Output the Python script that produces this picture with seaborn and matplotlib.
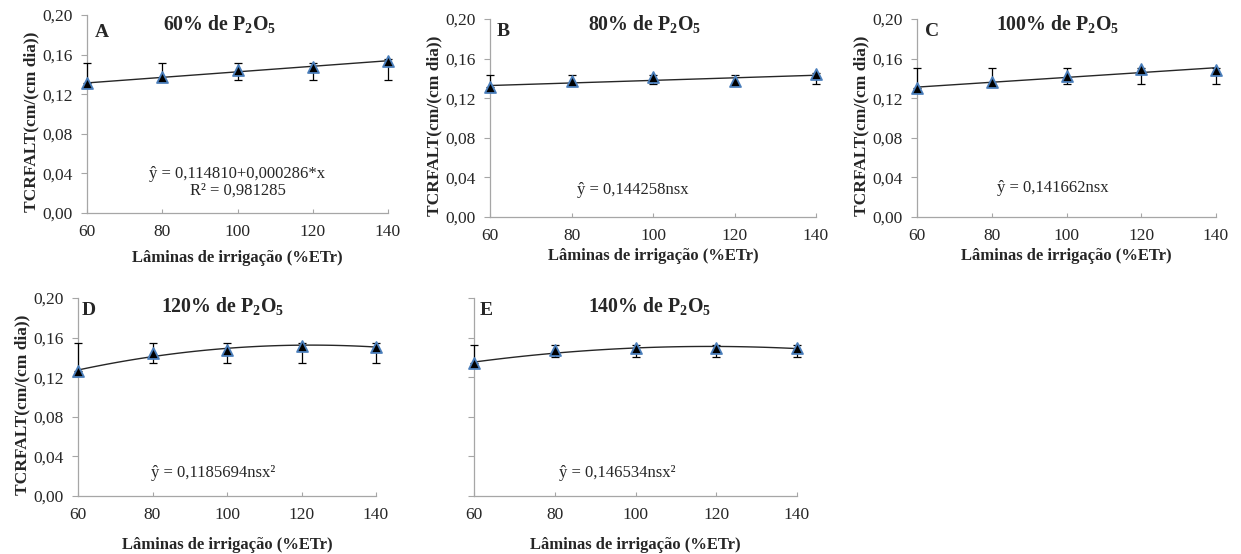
import numpy as np
import pandas as pd
import seaborn as sns
import matplotlib
matplotlib.use("Agg")
import matplotlib.pyplot as plt

# ---------------- data ----------------
laminas = [60, 80, 100, 120, 140]

mean_A = [0.131, 0.137, 0.144, 0.147, 0.154]
low_A = [0.131, 0.134, 0.134, 0.134, 0.134]
high_A = [0.152, 0.152, 0.152, 0.152, 0.156]

mean_B = [0.131, 0.137, 0.141, 0.137, 0.144]
low_B = [0.131, 0.134, 0.134, 0.134, 0.134]
high_B = [0.143, 0.143, 0.143, 0.143, 0.145]

mean_C = [0.130, 0.136, 0.142, 0.149, 0.148]
low_C = [0.130, 0.134, 0.134, 0.134, 0.134]
high_C = [0.150, 0.150, 0.150, 0.151, 0.150]

mean_D = [0.126, 0.144, 0.147, 0.152, 0.151]
low_D = [0.126, 0.134, 0.134, 0.134, 0.134]
high_D = [0.155, 0.155, 0.155, 0.155, 0.155]

mean_E = [0.134, 0.147, 0.149, 0.149, 0.150]
low_E = [0.134, 0.140, 0.140, 0.140, 0.140]
high_E = [0.153, 0.153, 0.153, 0.153, 0.153]

letters = ["A", "B", "C", "D", "E"]
titles = [r"60% de P$_{\mathbf{2}}$O$_{\mathbf{5}}$",
          r"80% de P$_{\mathbf{2}}$O$_{\mathbf{5}}$",
          r"100% de P$_{\mathbf{2}}$O$_{\mathbf{5}}$",
          r"120% de P$_{\mathbf{2}}$O$_{\mathbf{5}}$",
          r"140% de P$_{\mathbf{2}}$O$_{\mathbf{5}}$"]
equations = ["ŷ = 0,114810+0,000286*x\nR² = 0,981285",
             "ŷ = 0,144258nsx",
             "ŷ = 0,141662nsx",
             "ŷ = 0,1185694nsx²",
             "ŷ = 0,146534nsx²"]
trend_order = [1, 1, 1, 2, 2]

yticks = [0.00, 0.04, 0.08, 0.12, 0.16, 0.20]
ytick_labels = ["0,00", "0,04", "0,08", "0,12", "0,16", "0,20"]
xticks = [60, 80, 100, 120, 140]
xtick_labels = ["60", "80", "100", "120", "140"]
xlabel = "Lâminas de irrigação (%ETr)"
ylabel = "TCRFALT(cm/(cm dia))"

series = [(mean_A, low_A, high_A), (mean_B, low_B, high_B), (mean_C, low_C, high_C),
          (mean_D, low_D, high_D), (mean_E, low_E, high_E)]

# ---------------- layout / style ----------------
sns.set_style("white")
plt.rcParams["font.family"] = ["Liberation Serif", "DejaVu Serif"]
plt.rcParams["mathtext.fontset"] = "custom"
plt.rcParams["mathtext.rm"] = "Liberation Serif"
plt.rcParams["mathtext.bf"] = "Liberation Serif:bold"
plt.rcParams["mathtext.it"] = "Liberation Serif:italic"

W, H = 1241, 554
fig = plt.figure(figsize=(W / 100, H / 100), dpi=100)

# axes boxes in pixels: x0, x1, ytop, ybottom
boxes = [(87, 388, 15, 213), (490, 816, 19, 217), (917, 1216, 19, 217),
         (78, 376, 298, 496), (474, 797, 298, 496)]
title_pos = [(95.3, 0.191), (98, 0.195), (97.5, 0.195), (98.7, 0.192), (103.6, 0.192)]
letter_pos = [(62.1, 0.182), (61.7, 0.187), (62.1, 0.187), (61.1, 0.187), (61.5, 0.187)]
eq_pos = [(100, 0.031), (95.1, 0.027), (96.4, 0.029), (96.2, 0.023), (95.4, 0.023)]
xlabel_pad = [7, 2.6, 2.6, 10, 10]
show_y = [True, True, True, True, False]

axis_gray = "#a6a6a6"
for i, (x0, x1, yt, yb) in enumerate(boxes):
    ax = fig.add_axes([x0 / W, 1 - yb / H, (x1 - x0) / W, (yb - yt) / H])
    mean, low, high = series[i]
    df = pd.DataFrame({"x": laminas, "y": mean, "lo": low, "hi": high})
    mid = (df["lo"] + df["hi"]) / 2
    half = (df["hi"] - df["lo"]) / 2

    sns.regplot(data=df, x="x", y="y", order=trend_order[i], ci=None, scatter=False,
                ax=ax, line_kws={"color": "#262626", "lw": 1.0, "zorder": 2})
    ax.errorbar(df["x"], mid, yerr=half, fmt="none", ecolor="black", elinewidth=0.9,
                capsize=3.2, capthick=0.9, zorder=3, clip_on=False)
    sns.scatterplot(data=df, x="x", y="y", marker="^", s=62, color="black",
                    edgecolor="#4a7ebb", linewidth=1.3, zorder=5, ax=ax, clip_on=False)

    ax.set_xlim(60, 140)
    ax.set_ylim(0, 0.20)
    ax.set_xticks(xticks)
    ax.set_xticklabels(xtick_labels, fontsize=12.5)
    ax.set_yticks(yticks)
    if show_y[i]:
        ax.set_yticklabels(ytick_labels, fontsize=12.5)
        ax.set_ylabel(ylabel, fontsize=12.5, fontweight="bold", labelpad=2)
        ax.yaxis.label.set_y(0.46)
    else:
        ax.set_yticklabels([])
        ax.set_ylabel("")
    ax.set_xlabel(xlabel, fontsize=12, fontweight="bold", labelpad=xlabel_pad[i])
    ax.tick_params(axis="y", length=4, width=0.8, color=axis_gray, pad=6.5, left=True)
    ax.tick_params(axis="x", length=3, width=0.8, color=axis_gray, direction="in",
                   pad=8, bottom=True)
    for s in ["top", "right"]:
        ax.spines[s].set_visible(False)
    for s in ["left", "bottom"]:
        ax.spines[s].set_color(axis_gray)
        ax.spines[s].set_linewidth(0.9)

    tx, ty = title_pos[i]
    ax.text(tx, ty, titles[i], ha="center", va="center", fontsize=14.3, fontweight="bold")
    lx, ly = letter_pos[i]
    ax.text(lx, ly, letters[i], ha="left", va="center", fontsize=14, fontweight="bold")
    ex, ey = eq_pos[i]
    ax.text(ex, ey, equations[i], ha="center", va="center", fontsize=12,
            multialignment="center", linespacing=1.1)

fig.savefig("out.png", dpi=100, facecolor="white")
